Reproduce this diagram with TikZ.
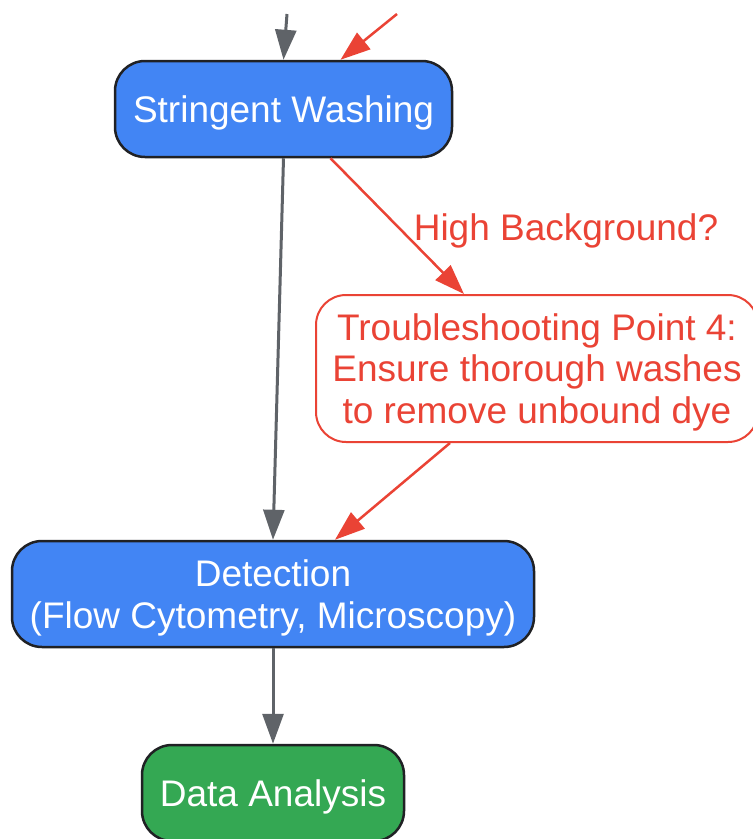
\documentclass[tikz,border=0pt]{standalone}
\usepackage{fontspec}
\setmainfont{Liberation Sans}
\usetikzlibrary{arrows.meta}
\definecolor{gblue}{HTML}{4285F4}
\definecolor{ggreen}{HTML}{34A853}
\definecolor{gred}{HTML}{EA4335}
\definecolor{ggray}{HTML}{5F6368}
\definecolor{gborder}{HTML}{202124}
\begin{document}
\begin{tikzpicture}[x=1pt,y=-1pt,
  boxbase/.style={line width=2.5pt, rounded corners=30pt, align=center, inner sep=0pt,
    text depth=0pt, font=\fontsize{37}{41.5}\selectfont},
  proc/.style={boxbase, draw=gborder, fill=gblue, text=white},
  finalbox/.style={boxbase, draw=gborder, fill=ggreen, text=white},
  tsbox/.style={boxbase, line width=2pt, draw=gred, fill=white, text=gred},
  grayedge/.style={draw=ggray, line width=3pt, -{Triangle[length=30pt,width=21pt]}},
  rededge/.style={draw=gred, line width=2.5pt, -{Triangle[length=30pt,width=21pt]}},
  redlbl/.style={text=gred, inner sep=0pt, font=\fontsize{37}{41.5}\selectfont}
]
\useasboundingbox (0,0) rectangle (753,839);

\node[proc, minimum width=337pt, minimum height=96pt] (sw) at (283.5,109) {Stringent Washing};
\node[tsbox, minimum width=442pt, minimum height=147pt] (ts) at (537,368.5)
  {Troubleshooting Point 4:\\Ensure thorough washes\\to remove unbound dye};
\node[proc, minimum width=522pt, minimum height=106pt] (det) at (273,594)
  {Detection\\(Flow Cytometry, Microscopy)};
\node[finalbox, minimum width=262pt, minimum height=96pt] (da) at (273,793) {Data Analysis};
\node[redlbl] (hb) at (566,231) {High Background?};

\coordinate (topg) at (287,14);
\coordinate (topr) at (397,14);

\draw[grayedge] (topg) -- (sw.north);
\draw[rededge] (topr) -- ([xshift=57pt]sw.north);
\draw[grayedge] (sw.south) -- (det.north);
\draw[rededge] ([xshift=47pt]sw.south) -- ([xshift=-73pt]ts.north);
\draw[rededge] ([xshift=-87pt]ts.south) -- ([xshift=62pt]det.north);
\draw[grayedge] (det.south) -- (da.north);
\end{tikzpicture}
\end{document}
